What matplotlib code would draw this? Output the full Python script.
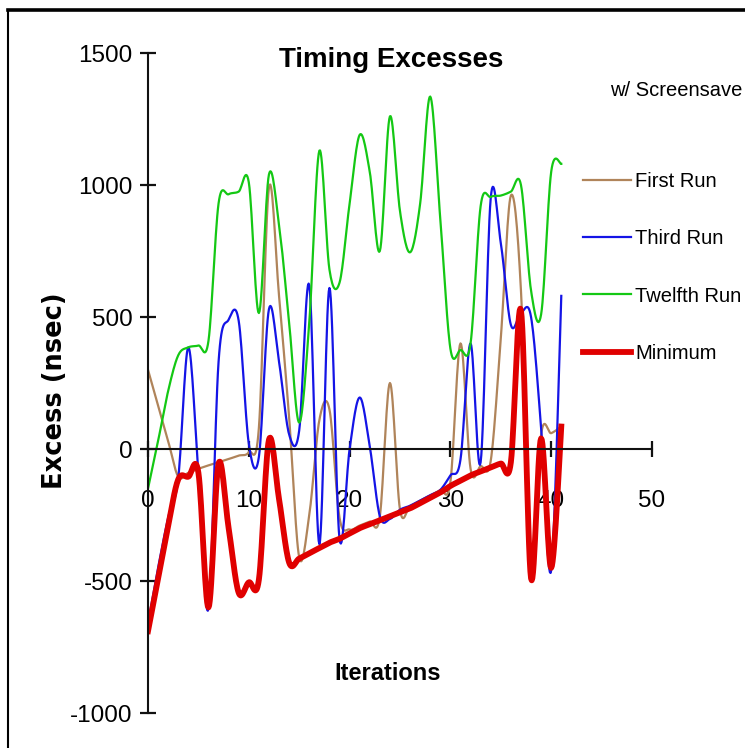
import numpy as np
import matplotlib
matplotlib.use("Agg")
import matplotlib.pyplot as plt
from matplotlib.lines import Line2D

# values, one per iteration
iterations = list(range(42))
first_run = [300, 165, 30, -105, -90, -75, -62, -50, -38, -25,
             -12, 80, 990, 580, 120, -410, -250, 110, 150, -260,
             -305, -290, -275, -255, 250, -230, -215, -195, -175, -155,
             -125, 400, -75, -65, -45, 420, 960, 600, -480, 55,
             60, 85]
third_run = [-660, -450, -260, -110, 385, -90, -605, 330, 490, 485,
             20, -30, 530, 330, 55, 70, 620, -360, 610, -340,
             0, 195, 10, -255, -265, -230, -215, -195, -175, -155,
             -100, -40, 400, -50, 950, 780, 470, 515, 500, 80,
             -460, 580]
twelfth_run = [-150, 30, 220, 355, 385, 392, 410, 930, 965, 975,
               1010, 515, 1040, 850, 480, 100, 480, 1130, 680, 630,
               930, 1190, 1050, 750, 1260, 900, 745, 930, 1335, 870,
               380, 375, 400, 920, 955, 960, 975, 1000, 600, 510,
               1050, 1080]
minimum = [-690, -490, -290, -115, -105, -90, -600, -55, -300, -545,
           -505, -495, 35, -190, -430, -415, -395, -375, -355, -340,
           -320, -300, -285, -270, -255, -240, -225, -205, -185, -165,
           -140, -120, -100, -85, -70, -55, -50, 525, -490, 40,
           -450, 85]

series = [
    ("First Run", first_run, "#b0845a", 1.6),
    ("Third Run", third_run, "#1414e6", 1.6),
    ("Twelfth Run", twelfth_run, "#14c814", 1.6),
    ("Minimum", minimum, "#e00000", 4.2),
]

plt.rcParams["font.family"] = ["Liberation Sans", "DejaVu Sans"]
plt.rcParams["axes.unicode_minus"] = False


def smooth(x, y, n=16):
    # bezier smoothing like the old spreadsheet "smoothed line"
    x = np.asarray(x, float)
    y = np.asarray(y, float)
    px = np.concatenate([[x[0]], x, [x[-1]]])
    py = np.concatenate([[y[0]], y, [y[-1]]])
    t = np.linspace(0, 1, n)[:, None]
    xs, ys = [], []
    for i in range(1, len(x)):
        p0, p1, p2, p3 = i - 1, i, i + 1, i + 2
        c1x = px[p1] + (px[p2] - px[p0]) / 6
        c1y = py[p1] + (py[p2] - py[p0]) / 6
        c2x = px[p2] - (px[p3] - px[p1]) / 6
        c2y = py[p2] - (py[p3] - py[p1]) / 6
        bx = ((1 - t) ** 3 * px[p1] + 3 * (1 - t) ** 2 * t * c1x
              + 3 * (1 - t) * t ** 2 * c2x + t ** 3 * px[p2])
        by = ((1 - t) ** 3 * py[p1] + 3 * (1 - t) ** 2 * t * c1y
              + 3 * (1 - t) * t ** 2 * c2y + t ** 3 * py[p2])
        xs.append(bx.ravel())
        ys.append(by.ravel())
    return np.concatenate(xs), np.concatenate(ys)


fig = plt.figure(figsize=(7.45, 7.48), dpi=100)
ax = fig.add_axes([148 / 745, 1 - 713 / 748, 504 / 745, 660 / 748])

handles = []
for name, vals, col, lw in series:
    sx, sy = smooth(iterations, vals)
    ln, = ax.plot(sx, sy, color=col, lw=lw, label=name, solid_joinstyle="round")
    handles.append(ln)

ax.set_xlim(0, 50)
ax.set_ylim(-1000, 1500)
ax.set_xticks(range(0, 51, 10))
ax.set_yticks(range(-1000, 1501, 500))

ax.spines["bottom"].set_position(("data", 0))
ax.spines["top"].set_visible(False)
ax.spines["right"].set_visible(False)
for s in ("bottom", "left"):
    ax.spines[s].set_linewidth(1.5)
    ax.spines[s].set_color("#111111")

ax.tick_params(direction="inout", length=11.5, width=1.6, labelsize=17.5, color="#111111")
ax.tick_params(axis="x", pad=24)
ax.tick_params(axis="y", pad=5.5)

ax.set_ylabel("Excess (nsec)", fontsize=18.5, fontweight="bold", family="DejaVu Sans")
ax.yaxis.set_label_coords(-0.1855, 0.489)
ax.yaxis.label.set_verticalalignment("center")

ax.set_xlabel("Iterations", fontsize=17, fontweight="bold")
ax.xaxis.set_label_coords(0.476, 0.0606)
ax.xaxis.label.set_verticalalignment("center")

fig.text(391 / 745, 1 - 60 / 748, "Timing Excesses", ha="center", va="center",
         fontsize=20, fontweight="bold")
# the reference shows this note cut by the window edge
fig.text(610 / 745, 1 - 90 / 748, "w/ Screensave", ha="left", va="center",
         fontsize=14.5)

ax.legend(handles=handles, loc="upper left",
          bbox_to_anchor=(583 / 745, 1 - 172 / 748), bbox_transform=fig.transFigure,
          frameon=False, prop={"size": 14.5},
          handlelength=2.4, handletextpad=0.2, labelspacing=1.9,
          borderpad=0, borderaxespad=0)

# window frame of the old screenshot
fig.add_artist(Line2D([8 / 745, 1], [1 - 10 / 748] * 2, transform=fig.transFigure,
                      color="black", lw=2.6))
fig.add_artist(Line2D([8 / 745] * 2, [0, 1 - 10 / 748], transform=fig.transFigure,
                      color="black", lw=1.5))

fig.savefig("out.png", dpi=100)
